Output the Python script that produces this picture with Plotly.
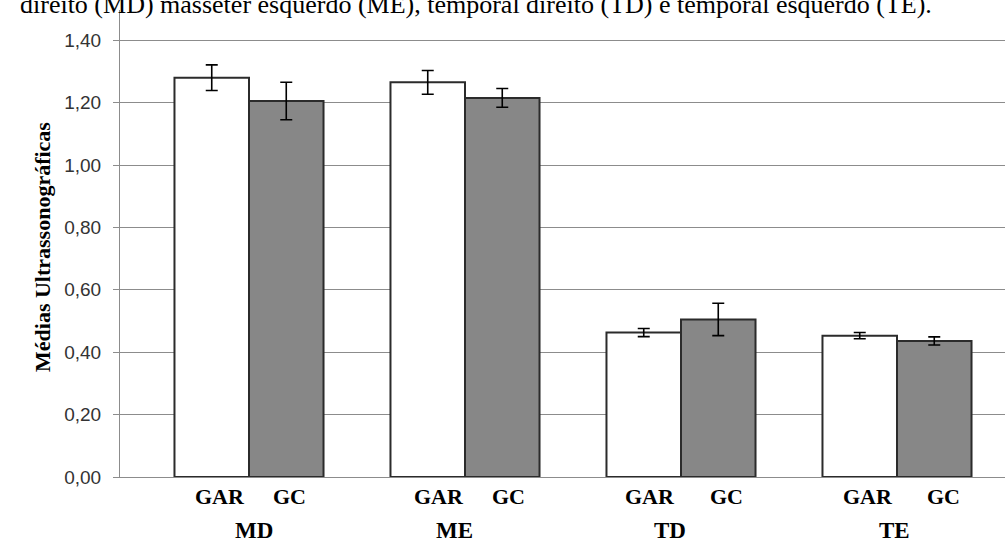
import plotly.graph_objects as go

categories = ["MD", "ME", "TD", "TE"]
groups = ["GAR", "GC"]
gar_values = [1.280, 1.265, 0.463, 0.453]
gar_errors = [0.041, 0.038, 0.013, 0.010]
gc_values = [1.205, 1.215, 0.505, 0.436]
gc_errors = [0.060, 0.030, 0.052, 0.013]
y_ticks = [0.0, 0.2, 0.4, 0.6, 0.8, 1.0, 1.2, 1.4]
caption = "direito (MD) masseter esquerdo (ME), temporal direito (TD) e temporal esquerdo (TE)."
y_title = "Médias Ultrassonográficas"

SERIF = "Liberation Serif, Times New Roman, serif"
SANS = "Liberation Sans, Arial, sans-serif"

fig = go.Figure()
fig.add_trace(go.Bar(
    x=categories, y=gar_values, name=groups[0],
    marker=dict(color="#ffffff", line=dict(color="#2b2b2b", width=2)),
    error_y=dict(type="data", array=gar_errors, color="#000000", thickness=1.6, width=6),
))
fig.add_trace(go.Bar(
    x=categories, y=gc_values, name=groups[1],
    marker=dict(color="#878787", line=dict(color="#2b2b2b", width=2)),
    error_y=dict(type="data", array=gc_errors, color="#000000", thickness=1.6, width=6),
))

W, H = 1005, 549
ml, mr, mt, mb = 120, 0, 10, 72
plot_w = W - ml - mr
plot_h = H - mt - mb
bar_w = (1 - 0.31) / 2

def py(pix):
    # pixel row from top of page -> paper y
    return (H - mb - pix) / plot_h

annotations = []
gar_shift = [8, 11, 6, 8]
gc_shift = [3, 6, 8, 9]
cat_shift = [5, -11, -11, -3]
for i, c in enumerate(categories):
    annotations.append(dict(x=i - bar_w / 2, y=py(496), xref="x", yref="paper", text="<b>" + groups[0] + "</b>",
                            showarrow=False, xshift=gar_shift[i], yanchor="middle",
                            font=dict(family=SERIF, size=22, color="#000000")))
    annotations.append(dict(x=i + bar_w / 2, y=py(496), xref="x", yref="paper", text="<b>" + groups[1] + "</b>",
                            showarrow=False, xshift=gc_shift[i], yanchor="middle",
                            font=dict(family=SERIF, size=22, color="#000000")))
    annotations.append(dict(x=i, y=py(530), xref="x", yref="paper", text="<b>" + c + "</b>",
                            showarrow=False, xshift=cat_shift[i], yanchor="middle",
                            font=dict(family=SERIF, size=23, color="#000000")))

annotations.append(dict(x=(42 - ml) / plot_w, y=py(247), xref="paper", yref="paper", text="<b>" + y_title + "</b>",
                        textangle=-90, showarrow=False, xanchor="center", yanchor="middle",
                        font=dict(family=SERIF, size=22, color="#000000")))
annotations.append(dict(x=(18 - ml) / plot_w, y=py(21), xref="paper", yref="paper", text=caption,
                        showarrow=False, xanchor="left", yanchor="bottom",
                        font=dict(family=SERIF, size=26, color="#000000")))

fig.update_layout(
    width=W, height=H,
    margin=dict(l=ml, r=mr, t=mt, b=mb),
    paper_bgcolor="#ffffff", plot_bgcolor="#ffffff",
    barmode="group", bargap=0.31, bargroupgap=0,
    showlegend=False,
    separators=",.",
    annotations=annotations,
    xaxis=dict(range=[-(249 - ml) / 216, 3.5], showticklabels=False, ticks="",
               showline=True, linecolor="#8c8c8c", linewidth=1, showgrid=False, zeroline=False),
    yaxis=dict(range=[0, (H - mb - mt) / 312], tickvals=y_ticks, tickformat=".2f",
               showgrid=True, gridcolor="#8c8c8c", gridwidth=1,
               showline=True, linecolor="#8c8c8c", linewidth=1,
               ticks="outside", ticklen=6, tickcolor="#8c8c8c", ticklabelstandoff=8,
               zeroline=False,
               tickfont=dict(family=SANS, size=19, color="#333333")),
)

fig.write_html("out.html")
